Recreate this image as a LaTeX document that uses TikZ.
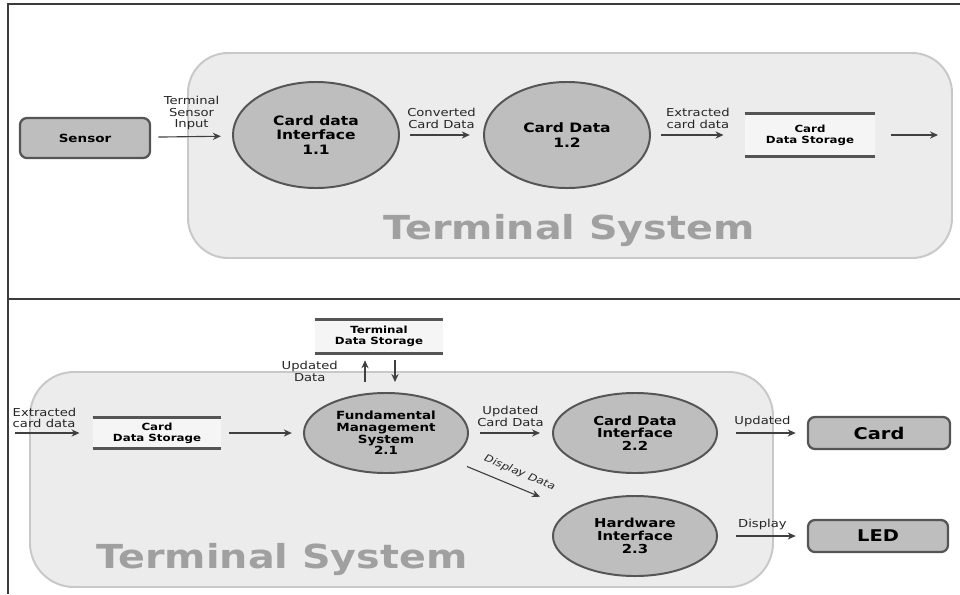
\documentclass[tikz,border=0pt]{standalone}
\usepackage{fontspec}
\setmainfont{DejaVu Sans}[FakeStretch=1.2]
\usetikzlibrary{positioning, shapes.geometric, arrows.meta, calc}
\definecolor{procgray}{RGB}{190,190,190}
\definecolor{edgegray}{RGB}{85,85,85}
\definecolor{sysgray}{RGB}{236,236,236}
\definecolor{sysedge}{RGB}{200,200,200}
\definecolor{storegray}{RGB}{245,245,245}
\definecolor{titlegray}{RGB}{160,160,160}
\definecolor{flowgray}{RGB}{64,64,64}
\definecolor{framegray}{RGB}{60,60,60}
\tikzset{
  proc/.style={ellipse, draw=edgegray, line width=1.4pt, fill=procgray, inner sep=0,
    minimum width=4.15cm, minimum height=2.65cm, align=center,
    font=\bfseries\fontsize{9.2}{10.4}\selectfont},
  proctwo/.style={proc, minimum width=4.1cm, minimum height=2cm,
    font=\bfseries\fontsize{8.8}{9}\selectfont},
  extent/.style={rectangle, rounded corners=5pt, draw=edgegray, line width=1.6pt,
    fill=procgray, font=\bfseries\fontsize{11.5}{12}\selectfont},
  store/.style={rectangle, fill=storegray, inner sep=0, align=center,
    font=\bfseries\fontsize{7}{7.6}\selectfont},
  storeline/.style={draw=edgegray, line width=2pt},
  flow/.style={->, draw=flowgray, line width=0.8pt},
  lbl/.style={font=\fontsize{7.8}{8.2}\selectfont, text=black!85, align=center},
  sysbox/.style={draw=sysedge, line width=1.4pt, fill=sysgray},
  bigtxt/.style={font=\bfseries\fontsize{23.5}{24}\selectfont, text=titlegray}
}

\begin{document}
\begin{tikzpicture}[x=0.025cm, y=-0.025cm, >={Stealth[length=2mm,width=1.8mm]}]
\useasboundingbox (0,0) rectangle (960,594);

\draw[framegray, line width=1.2pt] (960,4) -- (8,4) -- (8,594);
\draw[framegray, line width=1.2pt] (8,299) -- (960,299);

\draw[sysbox, rounded corners=1cm] (188,53) rectangle (952,258);
\node[bigtxt, anchor=base] (title1) at (569,239) {Terminal System};

\node[extent, minimum width=3.25cm, minimum height=1cm, font=\bfseries\fontsize{8}{9}\selectfont] (sensor) at (85,138) {Sensor};
\node[proc] (c11) at (316,135) {Card data\\Interface\\1.1};
\node[proc] (c12) at (567,135) {Card Data\\1.2};
\node[store, minimum width=3.25cm, minimum height=1.075cm] (cds1) at (810,135) {Card\\Data Storage};
\draw[storeline] (cds1.north west) -- (cds1.north east);
\draw[storeline] (cds1.south west) -- (cds1.south east);
\coordinate (out1) at (938,135);

\draw[flow, shorten <=0.18cm, shorten >=0.28cm] (sensor) -- node[lbl, above=1pt] {Terminal\\Sensor\\Input} (c11);
\draw[flow, shorten <=0.25cm, shorten >=0.33cm] (c11) -- node[lbl, above=1pt] {Converted\\Card Data} (c12);
\draw[flow, shorten <=0.25cm, shorten >=0.53cm] (c12) -- node[lbl, above=1pt] {Extracted\\card data} (cds1);
\draw[flow, shorten <=0.38cm] (cds1) -- (out1);

\draw[sysbox, rounded corners=1.1cm] (30,372) rectangle (773,587);
\node[bigtxt, anchor=base] (title2) at (282,568) {Terminal System};

\node[store, minimum width=3.2cm, minimum height=0.825cm] (tds) at (379,336.5) {Terminal\\Data Storage};
\draw[storeline] (tds.north west) -- (tds.north east);
\draw[storeline] (tds.south west) -- (tds.south east);
\node[store, minimum width=3.2cm, minimum height=0.78cm] (cds2) at (157,433) {Card\\Data Storage};
\draw[storeline] (cds2.north west) -- (cds2.north east);
\draw[storeline] (cds2.south west) -- (cds2.south east);
\coordinate (in2) at (15,433);

\node[proctwo, font=\bfseries\fontsize{8}{8.3}\selectfont] (c21) at (386,433) {Fundamental\\Management\\System\\2.1};
\node[proctwo] (c22) at (635,433) {Card Data\\Interface\\2.2};
\node[proctwo] (c23) at (635,536) {Hardware\\Interface\\2.3};
\node[extent, minimum width=3.55cm, minimum height=0.8cm] (card) at (879,433) {Card};
\node[extent, minimum width=3.5cm, minimum height=0.8cm] (led) at (878,536) {LED};

\draw[flow, shorten >=0.33cm] (in2) -- node[lbl, above right, pos=0, inner xsep=0, align=left, xshift=-2pt] {Extracted\\card data} (cds2);
\draw[flow, shorten <=0.2cm, shorten >=0.28cm] (cds2) -- (c21);
\draw[flow, shorten <=0.28cm, shorten >=0.3cm] (c21) -- node[lbl, above=1pt] {Updated\\Card Data} (c22);
\draw[flow, shorten <=0.45cm, shorten >=0.28cm] (c22) -- node[lbl, above=1pt] {Updated} (card);
\draw[flow, shorten <=0.45cm, shorten >=0.28cm] (c23) -- node[lbl, above=1pt] {Display} (led);
\draw[flow, shorten <=0.47cm, shorten >=0.85cm] (c21) -- node[lbl, pos=0.53, above=3pt, sloped, font=\itshape\fontsize{7}{8}\selectfont] {Display Data} (c23);

\draw[flow] ($(c21.north)+(-21,-10)$) -- node[lbl, left=0.55cm] {Updated\\Data} ($(tds.south)+(-14,7)$);
\draw[flow] ($(tds.south)+(16,7)$) -- ($(c21.north)+(9,-10)$);

\end{tikzpicture}
\end{document}
